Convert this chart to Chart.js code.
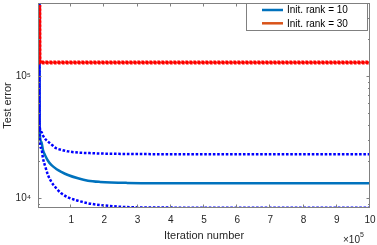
<!DOCTYPE html>
<html><head><meta charset="utf-8">
<script src="https://cdn.jsdelivr.net/npm/chart.js@4"></script>
<style>html,body{margin:0;padding:0;background:#fff}#wrap{width:377px;height:245px}</style>
</head><body><div id="wrap"><canvas id="c"></canvas></div>
<script>
// ---- data ----
const iters = [4000, 4500, 9900, 15000, 22000, 30000, 40000, 55000, 70000, 90300, 120400, 150500, 187000, 268000, 400000, 600000, 800000, 1000000];
const rank10Mean  = [600000, 38400, 28940, 24740, 22200, 20200, 18640, 17300, 16400, 15440, 14500, 13860, 13550, 13300, 13220, 13200, 13200, 13200];
const rank10Upper = [600000, 40000, 34950, 32500, 30400, 29000, 27500, 25550, 24800, 24100, 23550, 23350, 23150, 22950, 22850, 22800, 22800, 22800];
const rank10Lower = [600000, 33000, 25550, 21150, 18060, 15440, 13600, 12010, 10930, 10130, 9500, 9050, 8765, 8420, 8340, 8330, 8330, 8330];
const rank30Iters = [4500, 4800, 1000000];
const rank30Mean  = [380000, 129000, 129000];
const rank30Upper = [380000, 129500, 129500];
const rank30Lower = [380000, 128500, 128500];
const legendLabels = ['Init. rank = 10', 'Init. rank = 30'];
const xTickValues = [100000, 200000, 300000, 400000, 500000, 600000, 700000, 800000, 900000, 1000000];
const xTickLabels = ['1','2','3','4','5','6','7','8','9','10'];
const yTickValues = [10000, 100000];
const yTickLabels = ['10\u2074', '10\u2075'];
const yMinorValues = [9000, 20000, 30000, 40000, 50000, 60000, 70000, 80000, 90000, 200000, 300000];
const xMin = 0, xMax = 1000000, yMin = 8280, yMax = 396000;

const FONT = '"Liberation Sans", Arial, Helvetica, sans-serif';
const TXT = '#262626';
const C10 = '#0072BD', C30 = '#D95319', BLUE = '#0000FF', RED = '#FF0000';

function pts(xs, ys){ return xs.map((x,i)=>({x:x, y:ys[i]})); }

const frame = {
  id:'frame',
  afterDatasetsDraw(chart){
    const {ctx, chartArea:a, scales:{x,y}} = chart;
    ctx.save();
    ctx.strokeStyle = '#808080'; ctx.lineWidth = 1;
    ctx.strokeRect(a.left+0.5, a.top+0.5, a.right-a.left-1, a.bottom-a.top-1);
    ctx.beginPath();
    for (const v of xTickValues){
      const px = Math.round(x.getPixelForValue(v))-0.5;
      ctx.moveTo(px, a.bottom); ctx.lineTo(px, a.bottom-3.5);
      ctx.moveTo(px, a.top); ctx.lineTo(px, a.top+3.5);
    }
    for (const v of yTickValues){
      const py = Math.round(y.getPixelForValue(v))+0.5;
      ctx.moveTo(a.left, py); ctx.lineTo(a.left+3.5, py);
      ctx.moveTo(a.right, py); ctx.lineTo(a.right-3.5, py);
    }
    for (const v of yMinorValues){
      const py = Math.round(y.getPixelForValue(v))+0.5;
      ctx.moveTo(a.left, py); ctx.lineTo(a.left+2, py);
      ctx.moveTo(a.right, py); ctx.lineTo(a.right-2, py);
    }
    ctx.stroke();
    ctx.restore();
  },
  afterDraw(chart){
    const {ctx, chartArea:a} = chart;
    ctx.save();
    // legend box
    const lx = 246.5, ly = a.top+0.5, lw = 121, lh = 27;
    ctx.fillStyle = '#fff'; ctx.fillRect(lx, ly, lw, lh);
    ctx.strokeStyle = '#808080'; ctx.lineWidth = 1; ctx.strokeRect(lx, ly, lw, lh);
    const cols = [C10, C30];
    legendLabels.forEach((t,i)=>{
      const yy = 10 + i*13.3;
      ctx.strokeStyle = cols[i]; ctx.lineWidth = 2.5;
      ctx.beginPath(); ctx.moveTo(262, yy); ctx.lineTo(283, yy); ctx.stroke();
      ctx.fillStyle = '#000'; ctx.font = '10px ' + FONT; ctx.textBaseline = 'middle'; ctx.textAlign = 'left';
      ctx.fillText(t, 287, yy+0.5);
    });
    // exponent label
    ctx.fillStyle = TXT; ctx.font = '10px ' + FONT; ctx.textBaseline = 'middle'; ctx.textAlign='left';
    const base = '\u00d710';
    ctx.fillText(base, 343, 240);
    const w = ctx.measureText(base).width;
    ctx.font = '7px ' + FONT;
    ctx.fillText('5', 343 + w, 235);
    ctx.restore();
  }
};

new Chart(document.getElementById('c'), {
  type: 'line',
  data: {
    datasets: [
      {label:'r30 lower', data: pts(rank30Iters, rank30Lower), borderColor: RED, borderWidth: 3.5, borderDash:[2.5,1.5], order: 1},
      {label:'r30 upper', data: pts(rank30Iters, rank30Upper), borderColor: RED, borderWidth: 3.5, borderDash:[2.5,1.5], borderDashOffset: 1.2, order: 2},
      {label:legendLabels[1], data: pts(rank30Iters, rank30Mean), borderColor: C30, borderWidth: 1, order: 3},
      {label:'r10 upper', data: pts(iters, rank10Upper), borderColor: BLUE, borderWidth: 2.5, borderDash:[2.6,1.7], cubicInterpolationMode:'monotone', order: 4},
      {label:'r10 lower', data: pts(iters, rank10Lower), borderColor: BLUE, borderWidth: 2.5, borderDash:[2.6,1.7], borderDashOffset: 2, cubicInterpolationMode:'monotone', order: 5},
      {label:legendLabels[0], data: pts(iters, rank10Mean), borderColor: C10, borderWidth: 2.5, cubicInterpolationMode:'monotone', order: 6}
    ]
  },
  options: {
    responsive: true, maintainAspectRatio: false, animation: false,
    devicePixelRatio: 1,
    elements: { point: { radius: 0, hoverRadius: 0 }, line: { borderCapStyle: 'butt', fill: false } },
    layout: { padding: { top: 3, right: 7, left: 0, bottom: 0 } },
    plugins: { legend: { display: false }, tooltip: { enabled: false } },
    scales: {
      x: {
        type: 'linear', min: xMin, max: xMax,
        afterFit: s => { s.height = 37; s.paddingLeft = 0; s.paddingRight = 0; },
        afterBuildTicks: s => { s.ticks = xTickValues.map(v=>({value:v})); },
        ticks: { color: TXT, font: { size: 10, family: FONT }, padding: 6, maxRotation: 0, autoSkip: false,
          callback: (v) => { const i = xTickValues.indexOf(v); return i>=0 ? xTickLabels[i] : ''; } },
        grid: { display: false, drawTicks: false },
        border: { display: false },
        title: { display: true, text: 'Iteration number', color: TXT, font: { size: 11, family: FONT }, padding: { top: 0, bottom: 2 } }
      },
      y: {
        type: 'logarithmic', min: yMin, max: yMax,
        afterFit: s => { s.width = 38; s.paddingTop = 0; s.paddingBottom = 0; },
        afterBuildTicks: s => { s.ticks = yTickValues.map(v=>({value:v})); },
        ticks: { color: TXT, font: { size: 10, family: FONT }, padding: 7, autoSkip: false,
          callback: (v) => { const i = yTickValues.indexOf(v); return i>=0 ? yTickLabels[i] : ''; } },
        grid: { display: false, drawTicks: false },
        border: { display: false },
        title: { display: true, text: 'Test error', color: TXT, font: { size: 11, family: FONT }, padding: { top: 1.5, bottom: 0 } }
      }
    }
  },
  plugins: [frame]
});
</script></body></html>
